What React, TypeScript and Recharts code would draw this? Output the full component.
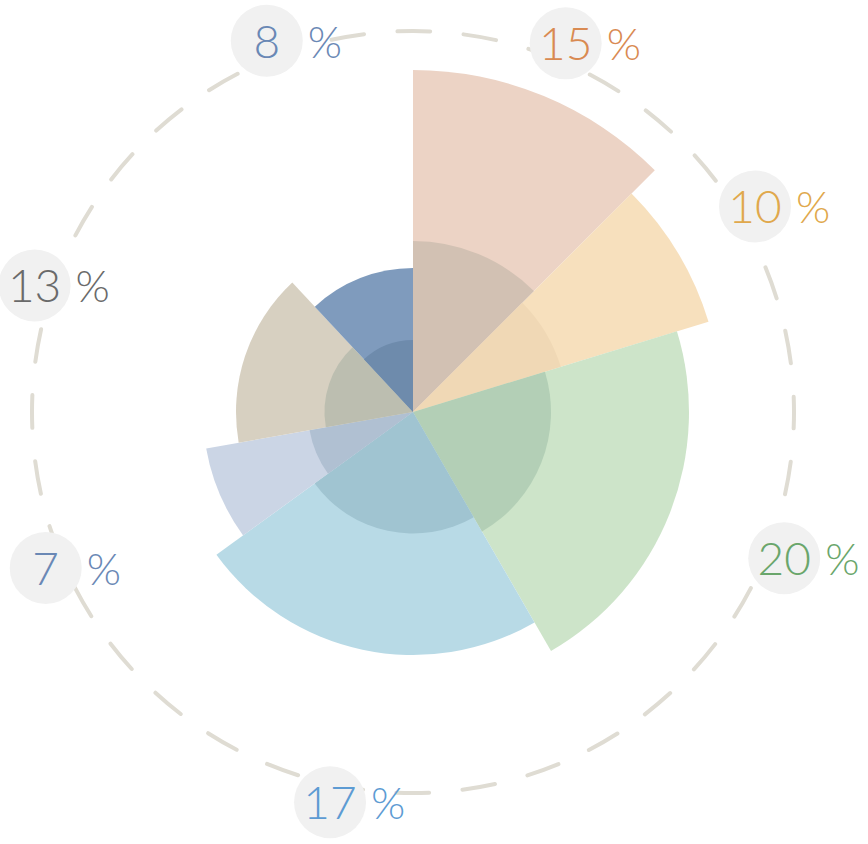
import React from 'react';
import { PieChart, Pie, Cell, Customized } from 'recharts';

// shown share of each petal, clockwise from 12 o'clock
const shares = [15, 10, 20, 17, 7, 13, 8];
// angular width of each petal (degrees)
const spans = [45, 28, 77, 84, 26, 57, 43];
// petal length rank
const petals = [7, 6, 5, 4, 3, 2, 1];

const fills = ['#ecd3c5', '#f7e0bd', '#cde4c9', '#b8dae6', '#cbd5e5', '#d7d0c1', '#7f9bbd'];
const coreFills = ['#d2c1b3', '#f0d8b5', '#b3cfb6', '#a0c4d1', '#b0c0d2', '#bcbeb0', '#6e8bac'];
const textColors = ['#d98a52', '#e0a84c', '#6aa66b', '#5d9bd3', '#6a88b5', '#6a6a6a', '#6a88b5'];

const rows = shares.map((s, i) => ({ name: `${s}%`, share: s, span: spans[i], petal: petals[i] }));

const CX = 413;
const CY = 412;
const RING = 381;
const LABEL_R = 399;
const RADIAN = Math.PI / 180;

// petal rank -> outer radius
const rMin = 144;
const rMax = 342;
const pMin = Math.min(...petals);
const pMax = Math.max(...petals);
const radiusOf = (p: number) => rMin + ((p - pMin) / (pMax - pMin)) * (rMax - rMin);

const FONT = 'Lato, "DejaVu Sans", sans-serif';

const renderLabel = (props: any) => {
  const { cx, cy, midAngle, index } = props;
  const x = cx + LABEL_R * Math.cos(-midAngle * RADIAN);
  const y = cy + LABEL_R * Math.sin(-midAngle * RADIAN);
  const color = textColors[index];
  return (
    <g key={`lbl-${index}`}>
      <circle cx={x} cy={y} r={36} fill="#f1f1f1" />
      <text x={x} y={y + 17} textAnchor="middle" fill={color} fontSize={46} fontWeight={300} fontFamily={FONT}>
        {shares[index]}
      </text>
      <text x={x + 41} y={y + 17} textAnchor="start" fill={color} fontSize={44} fontWeight={300} fontFamily={FONT}>
        %
      </text>
    </g>
  );
};

const Ring = () => (
  <circle
    cx={CX}
    cy={CY}
    r={RING}
    fill="none"
    stroke="#dfdcd3"
    strokeWidth={4}
    strokeDasharray="33 33.5"
    strokeDashoffset={16.5}
    strokeLinecap="round"
  />
);

export default function App() {
  return (
    <div style={{ position: 'absolute', left: 0, top: 0, width: 868, height: 844, background: '#fff' }}>
      <PieChart width={868} height={844} margin={{ top: 0, right: 0, bottom: 0, left: 0 }}>
        <Customized component={Ring} />
        {rows.map((row, i) => (
          <Pie
            key={`petal-${i}`}
            data={rows}
            dataKey="span"
            cx={CX}
            cy={CY}
            startAngle={90}
            endAngle={-270}
            innerRadius={0}
            outerRadius={radiusOf(row.petal)}
            stroke="none"
            isAnimationActive={false}
          >
            {rows.map((_, j) => (
              <Cell key={j} fill={j === i ? fills[i] : 'none'} stroke="none" />
            ))}
          </Pie>
        ))}
        {rows.map((row, i) => (
          <Pie
            key={`core-${i}`}
            data={rows}
            dataKey="span"
            cx={CX}
            cy={CY}
            startAngle={90}
            endAngle={-270}
            innerRadius={0}
            outerRadius={radiusOf(row.petal) / 2}
            stroke="none"
            isAnimationActive={false}
          >
            {rows.map((_, j) => (
              <Cell key={j} fill={j === i ? coreFills[i] : 'none'} stroke="none" />
            ))}
          </Pie>
        ))}
        <Pie
          data={rows}
          dataKey="span"
          cx={CX}
          cy={CY}
          startAngle={90}
          endAngle={-270}
          innerRadius={0}
          outerRadius={LABEL_R}
          fill="none"
          stroke="none"
          label={renderLabel}
          labelLine={false}
          isAnimationActive={false}
        />
      </PieChart>
    </div>
  );
}
